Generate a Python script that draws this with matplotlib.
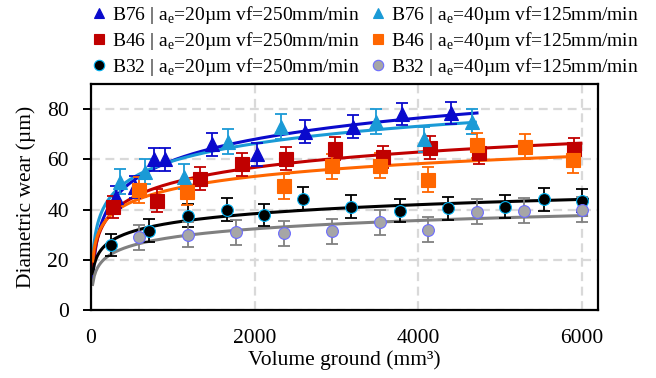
import numpy as np
import matplotlib
matplotlib.use('Agg')
import matplotlib.pyplot as plt
from matplotlib.lines import Line2D

plt.rcParams['font.family'] = ['Liberation Serif', 'DejaVu Serif']
plt.rcParams['mathtext.fontset'] = 'custom'
plt.rcParams['mathtext.rm'] = 'Liberation Serif'

# volume ground (mm3) / diametric wear (um)
b76_20_x = [300, 540, 770, 900, 1480, 2030, 2620, 3210, 3800, 4400]
b76_20_y = [45, 49, 60, 60, 66, 62, 71, 73, 78, 78.5]
b76_40_x = [360, 660, 1140, 1670, 2320, 3490, 4070, 4660]
b76_40_y = [51, 55, 53, 67, 73, 75, 68, 75]
b46_20_x = [275, 805, 1330, 1850, 2390, 2980, 3570, 4150, 4740, 5910]
b46_20_y = [41, 43.6, 52.3, 58, 60.3, 64.3, 61, 64.7, 62.5, 64]
b46_40_x = [590, 1180, 2360, 2950, 3540, 4120, 4715, 5305, 5900]
b46_40_y = [47.8, 47, 49.3, 57.2, 57.5, 51.9, 65.6, 65, 59.6]
b32_20_x = [245, 710, 1185, 1660, 2120, 2590, 3180, 3780, 4360, 5065, 5540, 6005]
b32_20_y = [25.9, 31.6, 37.6, 40, 37.9, 44.3, 41.2, 39.6, 40.5, 41.2, 44.1, 43.6]
b32_40_x = [590, 1185, 1775, 2360, 2950, 3540, 4125, 4715, 5295, 6005]
b32_40_y = [28.9, 30, 30.9, 30.5, 31.3, 34.9, 31.9, 39.2, 39.6, 39.9]
err_20 = 4.5
err_40 = 5.0

lbl_20 = r'a$_\mathrm{e}$=20µm vf=250mm/min'
lbl_40 = r'a$_\mathrm{e}$=40µm vf=125mm/min'

# (x, y, err, marker, face, edge, errcolor, linecolor, fit end, label)
series = [
    (b76_20_x, b76_20_y, err_20, '^', '#0A0ACC', '#0A0ACC', '#0A0ACC', '#0A0ACC', 4720, 'B76 | ' + lbl_20),
    (b46_20_x, b46_20_y, err_20, 's', '#C00000', '#C00000', '#C00000', '#C00000', 5990, 'B46 | ' + lbl_20),
    (b32_20_x, b32_20_y, err_20, 'o', 'black', '#00B0F0', 'black', 'black', 6070, 'B32 | ' + lbl_20),
    (b76_40_x, b76_40_y, err_40, '^', '#1A9AD6', '#1A9AD6', '#1A9AD6', '#1A9AD6', 4700, 'B76 | ' + lbl_40),
    (b46_40_x, b46_40_y, err_40, 's', '#FF6600', '#FF6600', '#FF6600', '#FF6600', 5960, 'B46 | ' + lbl_40),
    (b32_40_x, b32_40_y, err_40, 'o', '#A6A6A6', '#6B6BFF', '#808080', '#808080', 6060, 'B32 | ' + lbl_40),
]

fig = plt.figure(figsize=(6.56, 3.78), dpi=100)
ax = fig.add_axes([0.1387, 0.1799, 0.9116 - 0.1387, 0.7778 - 0.1799])

handles = []
for x, y, err, mk, fc, ec, errc, lc, xend, label in series:
    x = np.array(x, dtype=float)
    y = np.array(y, dtype=float)
    # logarithmic trendline
    a, b = np.polyfit(np.log(x), y, 1)
    xf = np.linspace(20, xend, 300)
    ax.plot(xf, a * np.log(xf) + b, color=lc, lw=2.2, zorder=2)
    ms = 9.5 if mk != 'o' else 8.5
    ax.errorbar(x, y, yerr=err, fmt='none', ecolor=errc, elinewidth=1.3,
                capsize=4.5, capthick=1.3, zorder=3)
    ax.plot(x, y, ls='none', marker=mk, ms=ms, mfc=fc, mec=ec, mew=0.8, zorder=4)
    handles.append(Line2D([], [], ls='none', marker=mk, ms=7.5, mfc=fc, mec=ec, mew=0.8))

ax.set_xlim(0, 6200)
ax.set_ylim(0, 90)
ax.set_xticks([0, 2000, 4000, 6000])
ax.set_yticks([0, 20, 40, 60, 80])
ax.grid(True, color='#D9D9D9', ls=(0, (4, 2.5)), lw=1.6)
ax.set_axisbelow(True)
for s in ax.spines.values():
    s.set_linewidth(1.6)
ax.tick_params(axis='y', length=6, width=1.4, pad=10, labelsize=15.5)
ax.tick_params(axis='x', length=0, pad=14, labelsize=15.5)
ax.set_xlabel('Volume ground (mm³)', fontsize=15.5, labelpad=1)
ax.set_ylabel('Diametric wear (µm)', fontsize=15.5, labelpad=8)

fig.legend(handles, [s[-1] for s in series], ncol=2, loc='upper center',
           bbox_to_anchor=(0.557, 1.02), frameon=False, fontsize=14,
           handlelength=0.7, handletextpad=0.3, columnspacing=0.6,
           labelspacing=0.2, borderaxespad=0.2)

fig.savefig('out.png', dpi=100)
